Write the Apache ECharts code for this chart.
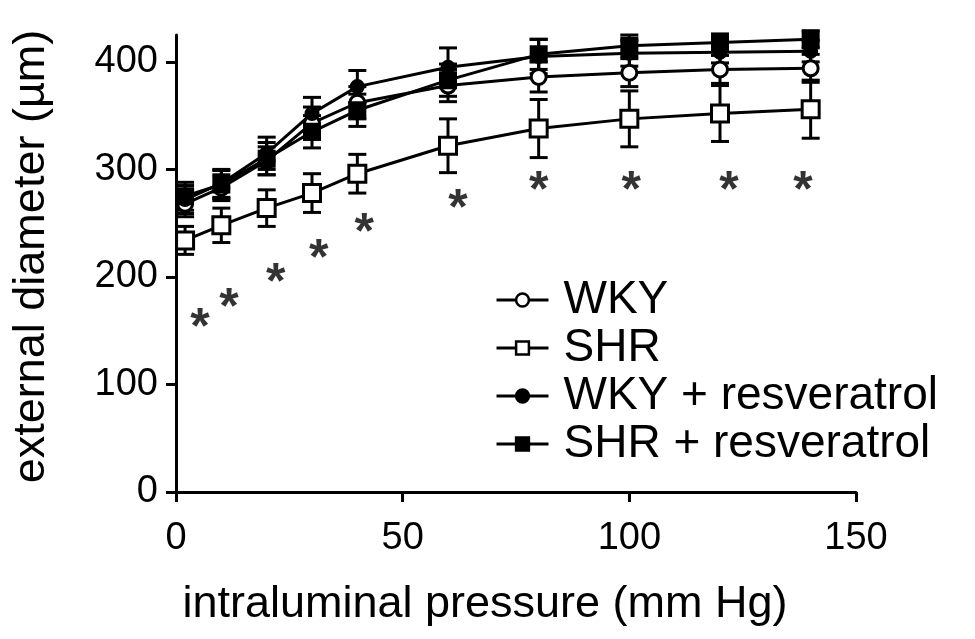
<!DOCTYPE html>
<html>
<head>
<meta charset="utf-8">
<script src="https://cdn.jsdelivr.net/npm/echarts@6/dist/echarts.min.js"></script>
<style>
  html, body { margin: 0; padding: 0; background: #fff; }
  #chart { width: 975px; height: 639px; }
</style>
</head>
<body>
<div id="chart"></div>
<script>
  // pressure steps (mm Hg)
  var pressure = [2, 10, 20, 30, 40, 60, 80, 100, 120, 140]

  var wky = [268, 283, 308, 343, 362, 378, 386, 390, 393, 394]
  var wkyErr = [12, 12, 13, 15, 15, 15, 14, 13, 13, 13]
  var shr = [234, 248, 264, 278, 296, 322, 338, 347, 352, 356]
  var shrErr = [13, 16, 17, 18, 18, 25, 27, 26, 26, 27]
  var wkyRes = [272, 287, 315, 352, 377, 395, 405, 408, 409, 410]
  var wkyResErr = [13, 13, 15, 15, 15, 18, 16, 12, 10, 10]
  var shrRes = [275, 286, 310, 335, 355, 383, 407, 415, 418, 421]
  var shrResErr = [13, 13, 15, 15, 15, 15, 14, 10, 8, 8]

  // significance stars
  var starX = [5.3, 11.7, 22, 31.5, 41.5, 62.2, 80, 100.4, 122, 138.3]
  var starY = [163, 181, 204, 227, 251, 273, 290, 290, 290, 290]

  var yTicks = [0, 100, 200, 300, 400]
  var names = ['WKY', 'SHR', 'WKY + resveratrol', 'SHR + resveratrol']
  var FONT = 'Liberation Sans, Arial, sans-serif'

  function pts (ys) {
    return pressure.map(function (p, i) { return [p, ys[i]] })
  }
  function errPts (ys, es) {
    return pressure.map(function (p, i) { return [p, ys[i] - es[i], ys[i] + es[i]] })
  }
  function errorBar (name, ys, es) {
    return {
      name: name + ' sd',
      type: 'custom',
      z: 1,
      data: errPts(ys, es),
      renderItem: function (params, api) {
        var x = api.value(0)
        var lo = api.coord([x, api.value(1)])
        var hi = api.coord([x, api.value(2)])
        var w = 9
        var st = { stroke: '#000', lineWidth: 3 }
        return {
          type: 'group',
          children: [
            { type: 'line', shape: { x1: lo[0], y1: lo[1], x2: hi[0], y2: hi[1] }, style: st },
            { type: 'line', shape: { x1: lo[0] - w, y1: lo[1], x2: lo[0] + w, y2: lo[1] }, style: st },
            { type: 'line', shape: { x1: hi[0] - w, y1: hi[1], x2: hi[0] + w, y2: hi[1] }, style: st },
          ],
        }
      },
    }
  }
  function line (name, ys, symbol, size, fill) {
    return {
      name: name,
      type: 'line',
      z: 3,
      data: pts(ys),
      symbol: symbol,
      symbolSize: size,
      showAllSymbol: true,
      color: '#000',
      lineStyle: { color: '#000', width: 3 },
      itemStyle: { color: fill, borderColor: '#000', borderWidth: 3 },
    }
  }

  var chart = echarts.init(document.getElementById('chart'))
  var option = {
    animation: false,
    backgroundColor: '#fff',
    textStyle: { fontFamily: FONT, color: '#000' },
    grid: { left: 176, right: 119, top: 35, bottom: 147, containLabel: false },
    legend: {
      data: names,
      orient: 'vertical',
      left: 490,
      top: 272,
      itemGap: 2,
      itemWidth: 52,
      itemHeight: 16,
      lineStyle: { color: '#000', width: 3 },
      itemStyle: { borderColor: '#000', borderWidth: 2.5 },
      textStyle: { fontFamily: FONT, fontSize: 46, color: '#000', padding: [0, 0, 0, 10] },
    },
    xAxis: {
      type: 'value',
      min: 0,
      max: 150,
      interval: 50,
      name: 'intraluminal pressure (mm Hg)',
      nameLocation: 'middle',
      nameGap: 90,
      nameTextStyle: { fontFamily: FONT, fontSize: 45, color: '#000', padding: [0, 62, 0, 0] },
      axisLine: { lineStyle: { color: '#000', width: 3 } },
      axisTick: { length: 10, lineStyle: { color: '#000', width: 3 } },
      axisLabel: { fontFamily: FONT, fontSize: 38, color: '#000', margin: 28 },
      splitLine: { show: false },
    },
    yAxis: {
      type: 'value',
      min: 0,
      max: 425,
      name: 'external diameter (µm)',
      nameLocation: 'middle',
      nameGap: 122,
      nameTextStyle: { fontFamily: FONT, fontSize: 45, color: '#000', padding: [0, 0, 0, 14] },
      axisLine: { lineStyle: { color: '#000', width: 3 } },
      axisTick: { length: 10, customValues: yTicks, lineStyle: { color: '#000', width: 3 } },
      axisLabel: { fontFamily: FONT, fontSize: 38, color: '#000', margin: 18, customValues: yTicks },
      splitLine: { show: false },
    },
    series: [
      errorBar('WKY', wky, wkyErr),
      errorBar('SHR', shr, shrErr),
      errorBar('WKY + resveratrol', wkyRes, wkyResErr),
      errorBar('SHR + resveratrol', shrRes, shrResErr),
      line('WKY', wky, 'circle', 15, '#fff'),
      line('SHR', shr, 'rect', 17, '#fff'),
      line('WKY + resveratrol', wkyRes, 'circle', 12, '#000'),
      line('SHR + resveratrol', shrRes, 'rect', 15, '#000'),
      {
        name: 'stars',
        type: 'scatter',
        z: 4,
        symbolSize: 1,
        itemStyle: { color: 'rgba(0,0,0,0)' },
        data: starX.map(function (x, i) { return [x, starY[i]] }),
        label: {
          show: true,
          position: 'inside',
          formatter: '*',
          fontFamily: FONT,
          fontSize: 50,
          fontWeight: 'bold',
          color: '#000',
          offset: [0, 12],
        },
      },
    ],
  }
  chart.setOption(option)
</script>
</body>
</html>
